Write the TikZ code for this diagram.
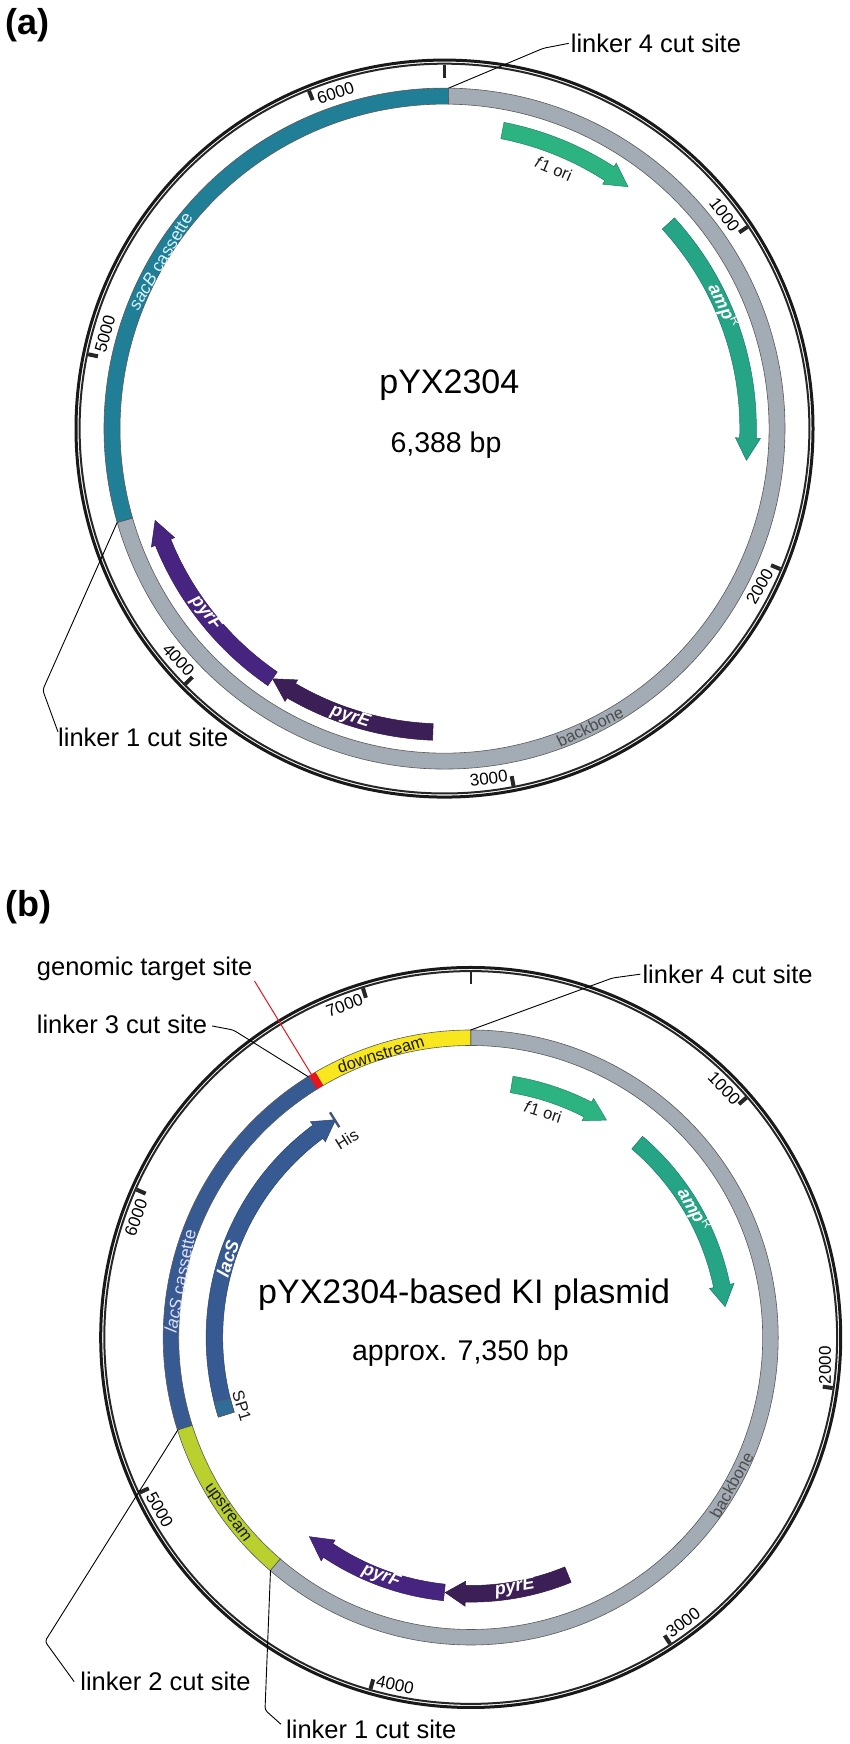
\documentclass[tikz,border=0pt]{standalone}
\usepackage{fontspec}
\setmainfont{Liberation Sans}
\definecolor{greyring}{HTML}{A3ABB5}
\definecolor{sacbteal}{HTML}{207E96}
\definecolor{lacsblue}{HTML}{375A93}
\definecolor{sponeblue}{HTML}{2F6C98}
\definecolor{hisbar}{HTML}{43527F}
\definecolor{upgreen}{HTML}{B9D02F}
\definecolor{downyellow}{HTML}{F8E71E}
\definecolor{siterred}{HTML}{E8141E}
\definecolor{origreen}{HTML}{2DB281}
\definecolor{ampgreen}{HTML}{25A586}
\definecolor{pyredark}{HTML}{3D1F58}
\definecolor{pyrfviolet}{HTML}{46247F}
\tikzset{
  bigsize/.style={font=\fontsize{#1}{#1}\selectfont,inner sep=0pt},
  cutlbl/.style={bigsize=25.5,anchor=west},
  titlelbl/.style={bigsize=34},
  sizelbl/.style={bigsize=28.5},
  panellbl/.style={font=\fontsize{36}{36}\selectfont\bfseries,inner sep=0pt},
  numlbl/.style={bigsize=17},
  arclbl/.style={bigsize=16.5,text=black!90},
  genelbl/.style={font=\fontsize{18}{18}\selectfont\bfseries\itshape,inner sep=0pt,text=white},
  leader/.style={line width=.9pt,rounded corners=3pt},
  segline/.style={draw=black!65,line width=.6pt},
}
% clockwise angles, 0 at the top
\newcommand{\ringseg}[5]{\draw[segline,fill=#5] ({90-#1}:#4) arc[start angle={90-#1},end angle={90-#2},radius=#4] -- ({90-#2}:#3) arc[start angle={90-#2},end angle={90-#1},radius=#3] -- cycle;}
\newcommand{\genearrow}[5]{\draw[draw=#5!75!black,line width=.5pt,fill=#5] ({90-#1}:{#4+8.3}) arc[start angle={90-#1},end angle={90-#2},radius=#4+8.3] -- ({90-#2}:{#4+12.5}) -- ({90-#3}:#4) -- ({90-#2}:{#4-12.5}) -- ({90-#2}:{#4-8.3}) arc[start angle={90-#2},end angle={90-#1},radius=#4-8.3] -- cycle;}
\newcommand{\outerring}[1]{\draw[line width=3pt,black!90] (0,0) circle (#1-1.5); \draw[line width=2pt,black!85] (0,0) circle (#1-5.1);}
\begin{document}
\begin{tikzpicture}[x=1pt,y=1pt]
  \useasboundingbox (0,0) rectangle (850,1744);
  % panel a
  \begin{scope}[shift={(444.5,1315.4)}]
    \outerring{370}
    \draw[line width=2.2pt,black!85] (90:351) -- (90:364);
    \foreach \n in {1000,2000,...,6000} \draw[line width=4pt,black!85] ({90-\n/6388*360}:354) -- ({90-\n/6388*360}:364);
    \foreach \val/\th/\rot in {1000/52.6/-52.6,2000/116.6/60,3000/172.8/7,4000/229/-47,5000/-74.4/74.4,6000/-18/18} \node (na\val) at ({90-\th}:352.5) [numlbl,rotate=\rot] {\val};
    \ringseg{.7}{254}{324.5}{340.5}{greyring}
    \ringseg{254}{360.7}{324.5}{340.5}{sacbteal}
    \coordinate (cut4a) at ({90-.7}:340.5);
    \coordinate (cut1a) at ({90-254}:340.5);
    \genearrow{11}{32.9}{37.2}{303.6}{origreen}
    \genearrow{47.5}{91.8}{96}{303.6}{ampgreen}
    \genearrow{182.2}{210.3}{214.5}{303.6}{pyredark}
    \genearrow{214.5}{248}{252.4}{303.6}{pyrfviolet}
    \node (fa) at ({90-22.8}:282) [arclbl,rotate=-22.8] {\textit{f}1 ori};
    \node (ampa) at ({90-66.3}:304.4) [genelbl,rotate=-64] {amp\textsuperscript{\normalfont R}};
    \node (pfa) at ({90-232.3}:301.7) [genelbl,rotate=-52] {pyrF};
    \node (pea) at ({90-198.1}:303.4) [genelbl,rotate=-18] {pyrE};
    \node (sacb) at ({90+59.5}:329.5) [arclbl,bigsize=17.5,text=cyan!15!white,rotate=59.5] {\textit{sacB} cassette};
    \node (boa) at ({90-154}:332) [arclbl,text=black!70,rotate=26] {backbone};
  \end{scope}
  \node (pa) at (27.5,1719) [panellbl] {(a)};
  \node (tita) at (449.3,1358.6) [titlelbl] {pYX2304};
  \node (siza) at (446,1298.5) [sizelbl] {6,388 bp};
  \node (lk4a) at (570.7,1700.6) [cutlbl] {linker 4 cut site};
  \node (lk1a) at (58,1007) [cutlbl] {linker 1 cut site};
  \draw[leader] ([xshift=-2pt]lk4a.west) -- (543.3,1695.7) -- (cut4a);
  \draw[leader] ([yshift=5pt]lk1a.west) -- (42.7,1054) -- (cut1a);
  % panel b
  \begin{scope}[shift={(470.7,406.5)}]
    \outerring{371.5}
    \draw[line width=2.2pt,black!85] (90:353) -- (90:366);
    \foreach \n in {1000,2000,...,7000} \draw[line width=4pt,black!85] ({90-\n/7350*360}:355.5) -- ({90-\n/7350*360}:365.5);
    \foreach \val/\th/\rot in {1000/45.5/-45.5,2000/94.5/90,3000/143.3/37,4000/192.3/-12,5000/241/-61,6000/-70.3/70.3,7000/-20.8/20.8} \node (nb\val) at ({90-\th}:355.5) [numlbl,rotate=\rot] {\val};
    \ringseg{0}{220.7}{292}{307.5}{greyring}
    \ringseg{220.7}{252.5}{292}{307.5}{upgreen}
    \ringseg{252.5}{328.3}{292}{307.5}{lacsblue}
    \ringseg{329.6}{360}{292}{307.5}{downyellow}
    \draw[draw=siterred,fill=siterred,line width=.4pt] ({90+31.7}:307.5) -- ({90+31.7}:292) -- ({90+30.4}:292) -- ({90+30.4}:307.5) -- cycle;
    \coordinate (cut4b) at (90:307.5);
    \coordinate (cut3b) at ({90+31.9}:307);
    \coordinate (redb) at ({90+31.2}:307);
    \coordinate (cut2b) at ({90-252.5}:307);
    \coordinate (cut1b) at ({90-220.7}:307);
    \genearrow{9.2}{27.2}{32}{256.3}{origreen}
    \genearrow{40.5}{78.4}{83.1}{256.3}{ampgreen}
    \genearrow{157.7}{181.2}{185.7}{256.3}{pyredark}
    \genearrow{185.9}{213.8}{219}{256.3}{pyrfviolet}
    \genearrow{252.5}{323.4}{328.2}{256.3}{lacsblue}
    \ringseg{252.5}{255.8}{248}{264.6}{sponeblue}
    \draw[hisbar,line width=2.4pt] ({90+32}:248) -- ({90+32}:265.5);
    \node (fb) at ({90-17.8}:237) [arclbl,rotate=-17.8] {\textit{f}1 ori};
    \node (ampb) at ({90-60.2}:257) [genelbl,rotate=-60] {amp\textsuperscript{\normalfont R}};
    \node (lacs) at ({90+72}:255.5) [genelbl,rotate=72] {lacS};
    \node (pfb) at ({90-200.6}:254.8) [genelbl,rotate=-20.6] {pyrF};
    \node (peb) at ({90-170}:253.7) [genelbl,rotate=10] {pyrE};
    \node (his) at ({90+32}:233.8) [arclbl,rotate=32] {His};
    \node (spone) at ({90-253.3}:239) [arclbl,rotate=-73] {SP1};
    \node (down) at ({90+17.6}:297.5) [arclbl,rotate=17.6] {downstream};
    \node (up) at ({90-234.2}:299.8) [arclbl,rotate=-54.2] {upstream};
    \node (bob) at ({90-119.5}:299.7) [arclbl,text=black!70,rotate=60.5] {backbone};
    \node (lacc) at ({90+79}:296) [arclbl,bigsize=17.5,text=blue!12!white,rotate=79] {\textit{lacS} cassette};
  \end{scope}
  \node (pb) at (28.7,836.5) [panellbl] {(b)};
  \node (titb) at (464.2,449.7) [titlelbl] {pYX2304-based KI plasmid};
  \node (sizb) at (460.4,391.3) [sizelbl] {approx. 7,350 bp};
  \node (gts) at (36.7,775) [cutlbl] {genomic target site};
  \node (lk3) at (36.7,720) [cutlbl] {linker 3 cut site};
  \node (lk4b) at (642.3,769.8) [cutlbl] {linker 4 cut site};
  \node (lk2) at (80.2,62.3) [cutlbl] {linker 2 cut site};
  \node (lk1b) at (286,14.7) [cutlbl] {linker 1 cut site};
  \draw[siterred,line width=1pt] ([shift={(2pt,0pt)}]gts.south east) -- (redb);
  \draw[leader] ([xshift=5pt,yshift=-2pt]lk3.east) -- (233.3,714) -- (cut3b);
  \draw[leader] ([xshift=-2pt]lk4b.west) -- (612.5,766) -- (cut4b);
  \draw[leader] ([xshift=-6pt]lk2.west) -- (45,102.6) -- (cut2b);
  \draw[leader] ([shift={(-5pt,5pt)}]lk1b.west) -- (265,34) -- (cut1b);
\end{tikzpicture}
\end{document}
